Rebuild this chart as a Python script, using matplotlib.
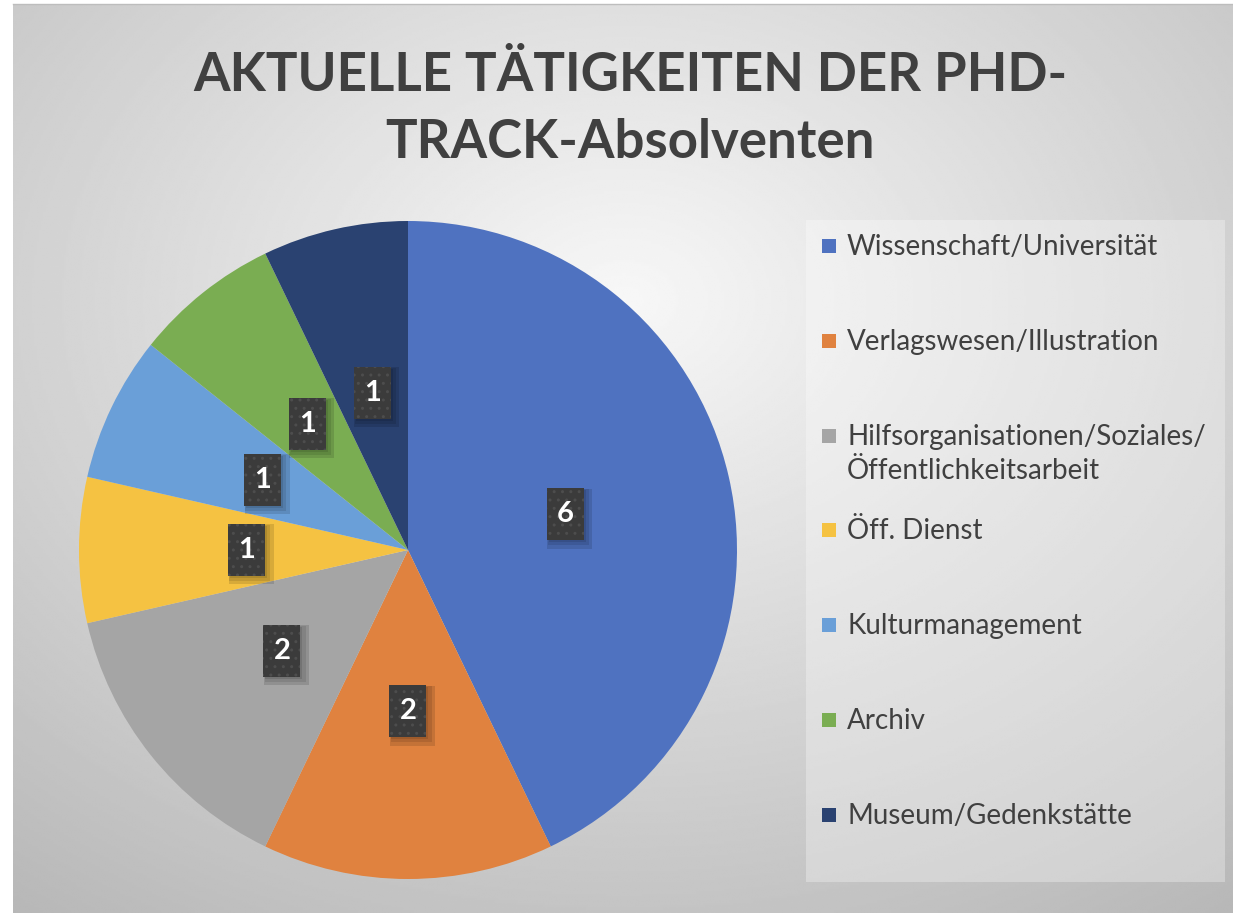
import numpy as np
import matplotlib
matplotlib.use("Agg")
import matplotlib.pyplot as plt
from matplotlib.patches import Rectangle
from matplotlib.transforms import offset_copy

kategorien = ["Wissenschaft/Universität", "Verlagswesen/Illustration",
              "Hilfsorganisationen/Soziales/\nÖffentlichkeitsarbeit", "Öff. Dienst",
              "Kulturmanagement", "Archiv", "Museum/Gedenkstätte"]
anzahl = [6, 2, 2, 1, 1, 1, 1]
farben = ["#4F72C0", "#E0823F", "#A5A5A5", "#F5C242", "#6A9FD8", "#7AAD52", "#2A4271"]
titel = "AKTUELLE TÄTIGKEITEN DER PHD-\nTRACK-Absolventen"

plt.rcParams["hatch.color"] = "#4a4a4a"

W, H = 1233, 913
fig = plt.figure(figsize=(W / 100, H / 100), dpi=100)
fig.patch.set_facecolor("white")

# radialer Hintergrund
bg = fig.add_axes([13 / W, 0, 1 - 13 / W, 1 - 5 / H])
yy, xx = np.mgrid[0:400, 0:540]
d = np.sqrt(((xx - 270) / 540) ** 2 + ((yy - 130) / 400) ** 2)
grau = 0.97 - 0.30 * d
bg.imshow(grau, cmap="gray", vmin=0, vmax=1, aspect="auto", interpolation="bilinear")
bg.axis("off")
fig.add_artist(plt.Line2D([13 / W, 1], [1 - 4 / H, 1 - 4 / H], color="#bdbdbd", lw=1))

fig.text(630 / W, 1 - 109 / H, titel, ha="center", va="center", fontsize=38,
         fontweight="bold", family="Lato", color="#404040", linespacing=1.44)

# Kreisdiagramm
cx, cy, r = 408, 550, 329
ax = fig.add_axes([(cx - r) / W, (H - cy - r) / H, 2 * r / W, 2 * r / H])
gesamt = sum(anzahl)
wedges, texts, autotexts = ax.pie(anzahl, colors=farben, startangle=90, counterclock=False,
                                  radius=1, pctdistance=0.49,
                                  autopct=lambda p: f"{round(p * gesamt / 100)}",
                                  wedgeprops=dict(linewidth=0))
ax.set_xlim(-1, 1)
ax.set_ylim(-1, 1)
ax.axis("off")

# dunkle Kästchen mit weichem Schatten
bw, bh = 37 / r, 52 / r
for t in autotexts:
    x, y = t.get_position()
    for k, a in [(0, 0.10), (2, 0.10), (4, 0.12)]:
        tr = offset_copy(ax.transData, fig=fig, x=2 + k * 0.6, y=-2 - k * 0.6, units="dots")
        ax.add_patch(Rectangle((x - bw / 2 - k / r, y - bh / 2 - k / r), bw + 2 * k / r,
                               bh + 2 * k / r, transform=tr, fc="black", ec="none",
                               alpha=a, zorder=3))
    ax.add_patch(Rectangle((x - bw / 2, y - bh / 2), bw, bh, fc="#3b3b3b", ec="#4d4d4d",
                           lw=0, hatch="..", zorder=3.5))
    t.set_fontsize(21)
    t.set_fontweight("bold")
    t.set_family("Lato")
    t.set_color("white")
    t.set_zorder(4)

# Legende
fig.patches.append(Rectangle((806 / W, 1 - 882 / H), 419 / W, 662 / H,
                             transform=fig.transFigure, fc="white", alpha=0.3, ec="none"))
schritt = 94.8
for i, (lab, col) in enumerate(zip(kategorien, farben)):
    yc = 246 + i * schritt
    fig.patches.append(Rectangle((822 / W, 1 - (yc + 7) / H), 14 / W, 14 / H,
                                 transform=fig.transFigure, fc=col, ec="none"))
    fig.text(847 / W, 1 - (yc - 12) / H, lab, ha="left", va="top", fontsize=20,
             family="Lato", color="#404040", linespacing=1.38)

fig.savefig("out.png", dpi=100)
